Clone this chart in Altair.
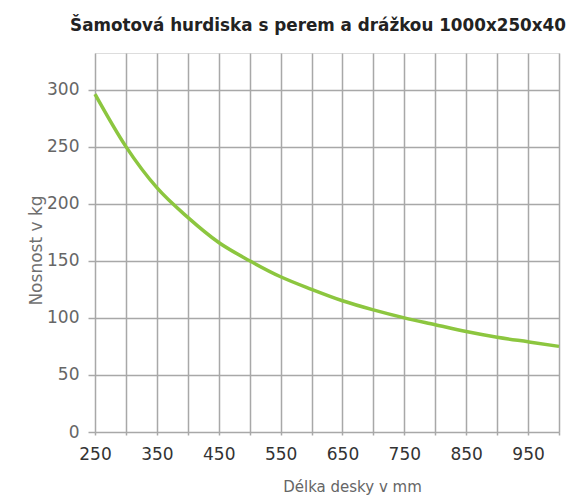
import altair as alt
import pandas as pd

# Data
lengths_mm = [250, 300, 350, 400, 450, 500, 550, 600, 650, 700, 750, 800, 850, 900, 950, 1000]
load_kg = [296, 250, 214, 188, 166, 150, 136, 125, 115, 107, 100, 94, 88, 83, 79, 75]

x_grid_values = [250, 300, 350, 400, 450, 500, 550, 600, 650, 700, 750, 800, 850, 900, 950, 1000]
y_tick_values = [0, 50, 100, 150, 200, 250, 300]

df = pd.DataFrame({"delka": lengths_mm, "nosnost": load_kg})

FONT = "DejaVu Sans"
GRID = "#a8a8a8"

chart = (
    alt.Chart(df)
    .mark_line(color="#8cc63f", strokeWidth=3.5, interpolate="monotone")
    .encode(
        x=alt.X(
            "delka:Q",
            scale=alt.Scale(domain=[250, 1000], nice=False, zero=False),
            axis=alt.Axis(
                title="Délka desky v mm",
                values=x_grid_values,
                labelExpr="datum.value % 100 == 50 ? datum.label : ''",
                grid=True,
                gridColor=GRID,
                gridWidth=1.5,
                domain=False,
                ticks=True,
                tickColor=GRID,
                tickWidth=1.5,
                tickSize=3,
                labelPadding=11,
                labelFont=FONT,
                labelFontSize=17,
                labelColor="#333333",
                labelFlush=False,
                titleFont=FONT,
                titleFontSize=15,
                titleFontWeight="normal",
                titleColor="#666666",
                titleX=257,
                titleY=59,
                titleBaseline="alphabetic",
            ),
        ),
        y=alt.Y(
            "nosnost:Q",
            scale=alt.Scale(domain=[0, 332], nice=False),
            axis=alt.Axis(
                title="Nosnost v kg",
                values=y_tick_values,
                grid=True,
                gridColor=GRID,
                gridWidth=1.5,
                domain=False,
                ticks=True,
                tickColor=GRID,
                tickWidth=1.5,
                tickSize=7,
                labelPadding=9,
                labelFont=FONT,
                labelFontSize=17,
                labelColor="#666666",
                titleFont=FONT,
                titleFontSize=17,
                titleFontWeight="normal",
                titleColor="#707070",
                titleX=-50,
                titleY=197,
                titleBaseline="bottom",
            ),
        ),
    )
    .properties(
        width=464,
        height=379,
        title=alt.TitleParams(
            text="Šamotová hurdiska s perem a drážkou 1000x250x40",
            font=FONT,
            fontSize=16.8,
            fontWeight="bold",
            color="#222222",
            anchor="middle",
            dx=-9,
            dy=-14,
        ),
        autosize=alt.AutoSizeParams(type="none"),
        padding={"left": 87, "top": 45, "right": 18, "bottom": 66},
    )
    .configure_view(stroke=None)
    .configure(background="white")
)

chart.save("out.html", embed_options={"renderer": "svg", "actions": False})
